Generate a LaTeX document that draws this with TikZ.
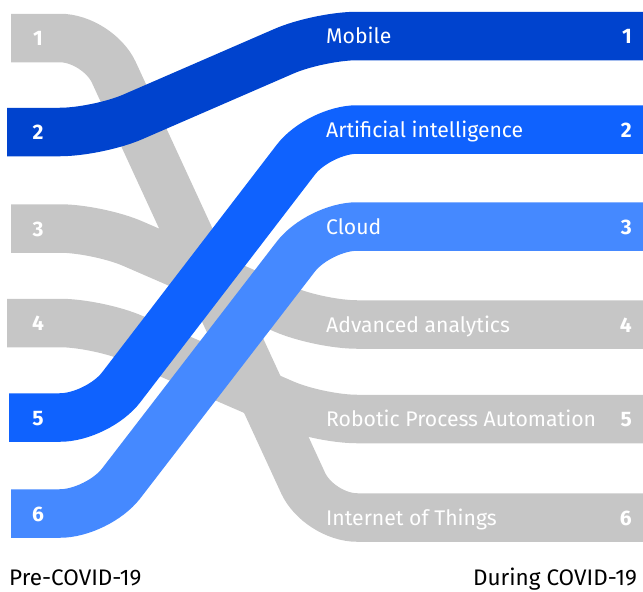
\documentclass[tikz,border=0pt]{standalone}
\usepackage{fontspec}
\setmainfont{Fira Sans}
\definecolor{gr}{HTML}{C6C6C6}
\definecolor{b70}{HTML}{0043CE}
\definecolor{b60}{HTML}{0F62FE}
\definecolor{b50}{HTML}{4589FF}
\begin{document}
\begin{tikzpicture}[x=1pt,y=-1pt,
  band/.style={line width=48.5pt, rounded corners=38pt},
  lab/.style={anchor=base west, text=white, inner sep=0pt, font=\fontsize{21.2}{21}\selectfont},
  rnum/.style={anchor=base east, text=white, inner sep=0pt, font=\fontsize{21}{21}\selectfont\bfseries},
  lnum/.style={anchor=base, text=white, inner sep=0pt, font=\fontsize{21}{21}\selectfont\bfseries},
  axis/.style={text=black, inner sep=0pt, font=\fontsize{22.5}{23}\selectfont}]
\useasboundingbox (0,0) rectangle (643,592);
% bend columns
\coordinate (cL) at (98,0);
\coordinate (cR) at (319,0);
% left ends
\coordinate (l1) at (11,38);
\coordinate (l2) at (7,132);
\coordinate (l3) at (11,228.5);
\coordinate (l4) at (7,323);
\coordinate (l5) at (9,417.5);
\coordinate (l6) at (11,513.5);
% right ends
\coordinate (r1) at (643,36);
\coordinate (r2) at (643,129.5);
\coordinate (r3) at (643,226.5);
\coordinate (r4) at (643,324.5);
\coordinate (r5) at (643,419);
\coordinate (r6) at (643,517.5);
% grey bands
\draw[band,gr] (l1) -- (l1 -| cL) -- (r6 -| cR) -- (r6);
\draw[band,gr] (l3) -- (l3 -| cL) -- (r4 -| cR) -- (r4);
\draw[band,gr] (l4) -- (l4 -| cL) -- (r5 -| cR) -- (r5);
% blue bands
\draw[band,b70] (l2) -- (l2 -| cL) -- (r1 -| cR) -- (r1);
\draw[band,b60] (l5) -- (l5 -| cL) -- (r2 -| cR) -- (r2);
\draw[band,b50] (l6) -- (l6 -| cL) -- (r3 -| cR) -- (r3);
% left numbers
\node[lnum] (n1) at (38,45.5) {1};
\node[lnum] (n2) at (38,139.5) {2};
\node[lnum] (n3) at (38,236) {3};
\node[lnum] (n4) at (38,330.5) {4};
\node[lnum] (n5) at (38,425) {5};
\node[lnum] (n6) at (38,521) {6};
% right labels
\node[lab] (t1) at (326,43.5) {Mobile};
\node[lab] (t2) at (326,137) {Artificial intelligence};
\node[lab] (t3) at (326,234) {Cloud};
\node[lab] (t4) at (326,332) {Advanced analytics};
\node[lab] (t5) at (326,426.5) {Robotic Process Automation};
\node[lab] (t6) at (326,525) {Internet of Things};
\node[rnum] (m1) at (632,43.5) {1};
\node[rnum] (m2) at (632,137) {2};
\node[rnum] (m3) at (632,234) {3};
\node[rnum] (m4) at (632,332) {4};
\node[rnum] (m5) at (632,426.5) {5};
\node[rnum] (m6) at (632,525) {6};
% axis captions
\node[axis,anchor=base west] (pre) at (9,585.5) {Pre-COVID-19};
\node[axis,anchor=base east] (dur) at (637,585.5) {During COVID-19};
\end{tikzpicture}
\end{document}
